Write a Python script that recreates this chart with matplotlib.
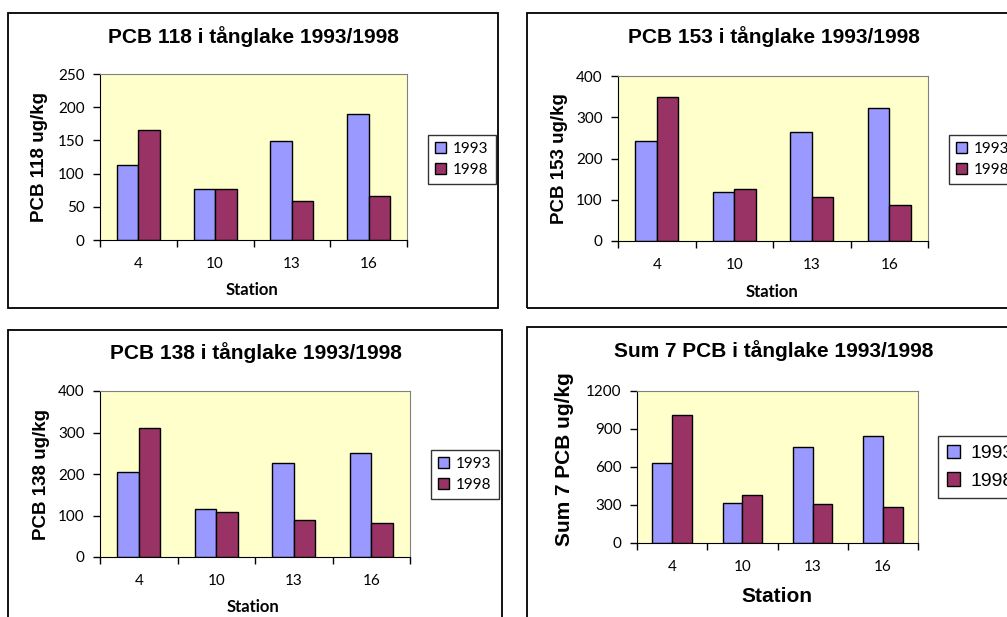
import numpy as np
import matplotlib
matplotlib.use("Agg")
import matplotlib.pyplot as plt
from matplotlib.patches import Rectangle

stations = ["4", "10", "13", "16"]
years = ["1993", "1998"]
pcb118 = {"1993": [113, 77, 149, 190], "1998": [166, 77, 58, 67]}
pcb153 = {"1993": [242, 118, 265, 323], "1998": [350, 126, 107, 87]}
pcb138 = {"1993": [204, 116, 227, 251], "1998": [312, 108, 89, 82]}
sum7 = {"1993": [633, 316, 757, 844], "1998": [1010, 380, 304, 288]}

W, H = 1007, 617
C93, C98 = "#9999FF", "#993366"
BG = "#FFFFCC"
TICKF = "Lato"
ARIAL = "Liberation Sans"

fig = plt.figure(figsize=(W / 100, H / 100), dpi=100)
fig.patch.set_facecolor("white")


def fx(x): return x / W
def fy(y): return 1 - y / H


def box(l, t, r, b):
    fig.patches.append(Rectangle((fx(l), fy(b)), fx(r - l), (b - t) / H, transform=fig.transFigure,
                                 fill=False, ec="black", lw=1.3, zorder=0))


def panel(data, rect, ymax, ystep, title, tpos, ylab, ylx, stpos, legpos, big=False):
    l, t, r, b = rect
    ax = fig.add_axes([fx(l), fy(b), fx(r - l), (b - t) / H])
    ax.set_facecolor(BG)
    x = np.arange(len(stations))
    w = 0.28
    ax.bar(x - w / 2, data["1993"], w, color=C93, ec="black", lw=1, label="1993", zorder=2)
    ax.bar(x + w / 2, data["1998"], w, color=C98, ec="black", lw=1, label="1998", zorder=2)
    ax.set_xlim(-0.5, len(stations) - 0.5)
    ax.set_ylim(0, ymax)
    ax.set_yticks(np.arange(0, ymax + 1, ystep))
    ax.set_xticks(np.arange(-0.5, len(stations)), minor=False)
    ax.set_xticklabels([])
    ax.set_xticks(x, minor=True)
    ax.set_xticklabels(stations, minor=True, fontsize=11, family=TICKF)
    ax.tick_params(axis="x", which="major", length=5, direction="out", width=1)
    ax.tick_params(axis="x", which="minor", length=0, pad=12)
    ax.tick_params(axis="y", length=5, direction="out", width=1, pad=6, labelsize=11)
    for lab in ax.get_yticklabels():
        lab.set_family(TICKF)
    for s in ["top", "right"]:
        ax.spines[s].set_color("#808080")
    for s in ["left", "bottom"]:
        ax.spines[s].set_color("black")
    fig.text(fx(tpos[0]), fy(tpos[1]), title, ha="center", va="center", fontsize=15,
             weight="bold", family=ARIAL)
    fig.text(fx(ylx), fy((t + b) / 2 - (8 if big else 0)), ylab, ha="center", va="center", rotation=90,
             fontsize=15 if big else 13.5, weight="bold", family=ARIAL)
    fig.text(fx(stpos[0]), fy(stpos[1]), "Station", ha="center", va="center",
             fontsize=15 if big else 12, weight="bold", family=ARIAL if big else TICKF)
    leg = ax.legend(loc="upper left", bbox_to_anchor=(fx(legpos[0]), fy(legpos[1])),
                    bbox_transform=fig.transFigure, frameon=True, fancybox=False,
                    fontsize=14 if big else 11, handlelength=0.7, handleheight=0.7,
                    handletextpad=0.5, borderpad=0.45, labelspacing=0.5 if big else 0.45,
                    borderaxespad=0)
    leg.get_frame().set_edgecolor("black")
    leg.get_frame().set_linewidth(1)
    for tx in leg.get_texts():
        tx.set_family(ARIAL if big else TICKF)
    return ax


box(8, 13, 498, 308)
box(527, 13, 1012, 308)
box(8, 330, 502, 622)
box(527, 327, 1012, 622)

panel(pcb118, (100, 74, 407, 240), 250, 50, "PCB 118 i tånglake 1993/1998", (253, 37),
      "PCB 118 ug/kg", 40, (252, 290), (428, 135))
panel(pcb153, (618, 76, 928, 241), 400, 100, "PCB 153 i tånglake 1993/1998", (774, 37),
      "PCB 153 ug/kg", 560, (772, 292), (949, 135))
panel(pcb138, (100, 391, 410, 557), 400, 100, "PCB 138 i tånglake 1993/1998", (256, 353),
      "PCB 138 ug/kg", 42, (253, 607), (431, 450))
panel(sum7, (637, 391, 918, 543), 1200, 300, "Sum 7 PCB i tånglake 1993/1998", (774, 351),
      "Sum 7 PCB ug/kg", 565, (777, 597), (938, 436), big=True)

fig.savefig("out.png", dpi=100)
